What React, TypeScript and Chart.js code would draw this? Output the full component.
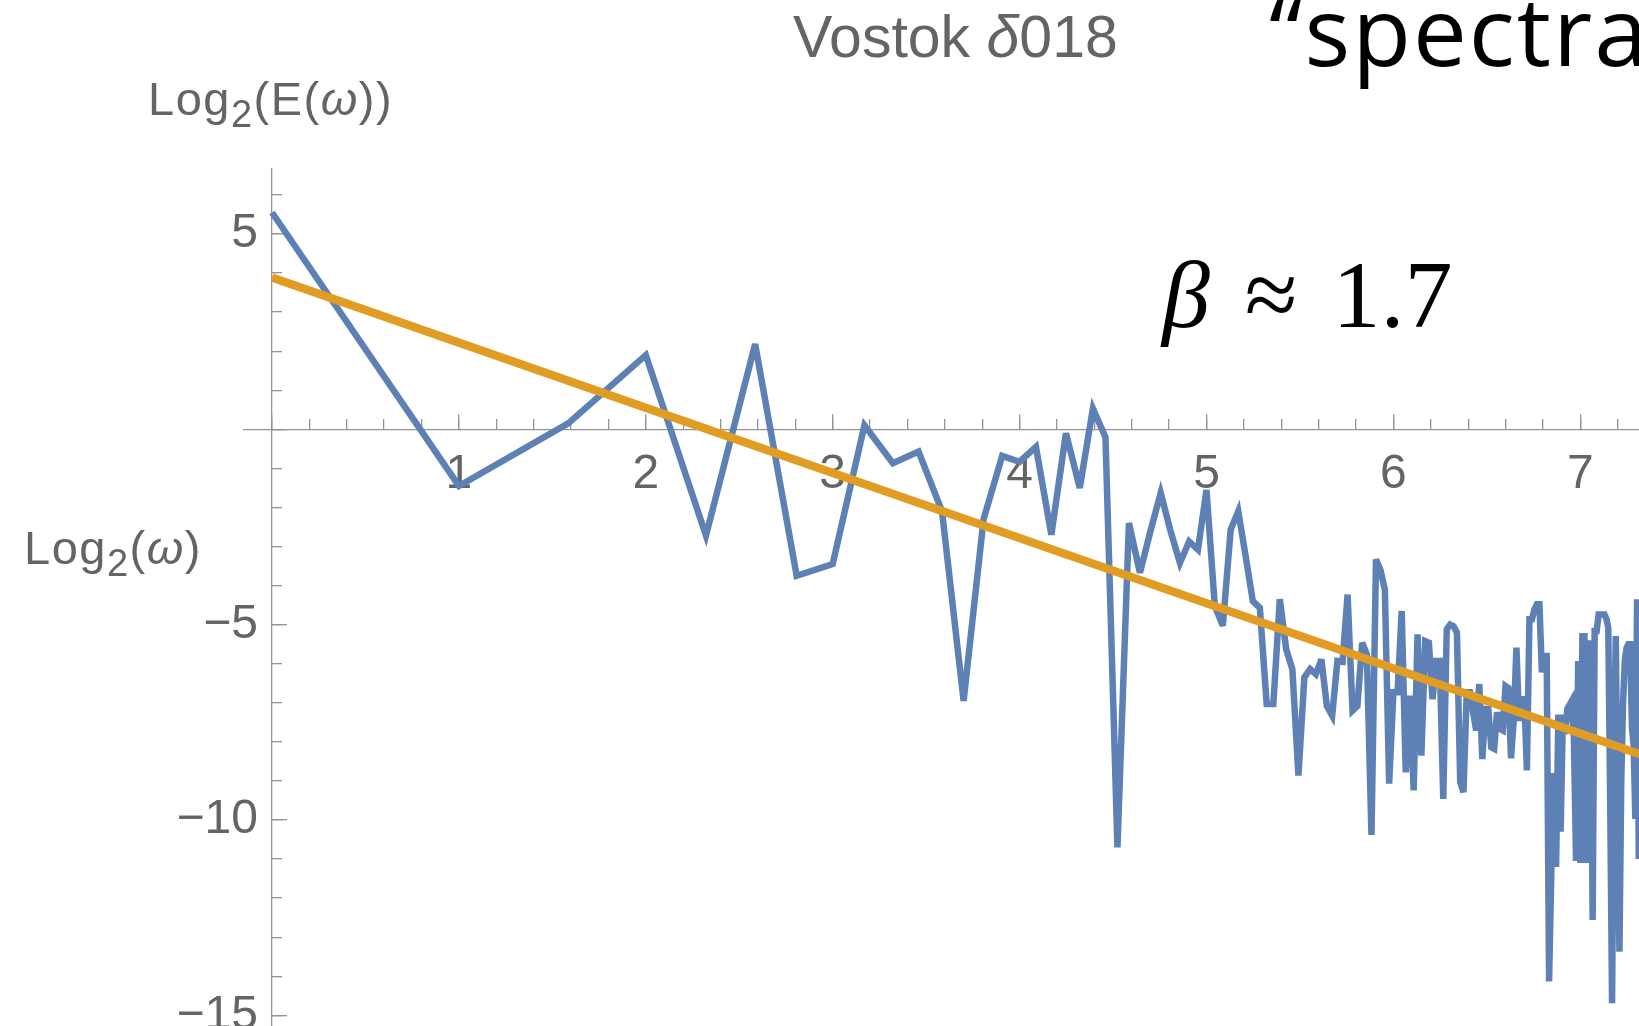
import React, { useEffect, useRef } from "react";
import { Chart, registerables } from "chart.js";

Chart.register(...registerables);

// Log2(E(ω)), for ω = 1, 2, 3, ... (x = Log2(ω))
const log2Power: number[] = [
  5.55, -1.45, 0.15, 1.9, -2.72, 2.18, -3.75, -3.45, 0.1, -0.87,
  -0.57, -2.1, -6.95, -2.3, -0.68, -0.83, -0.45, -2.7, -0.1, -1.5,
  0.53, -0.2, -10.7, -2.4, -3.67, -2.6, -1.63, -2.6, -3.42, -2.87,
  -3.08, -1.55, -4.52, -5.03, -2.57, -2.1, -3.25, -4.4, -4.57, -7.03,
  -7.03, -4.35, -5.63, -6.14, -8.86, -6.35, -6.14, -6.27, -5.89, -7.08,
  -7.33, -5.93, -5.95, -4.23, -7.2, -7.08, -5.46, -5.76, -10.38, -3.33,
  -3.6, -4.1, -9.07, -6.73, -6.73, -4.65, -8.78, -6.82, -9.24, -5.25,
  -8.35, -5.42, -5.46, -6.91, -5.93, -5.93, -9.46, -5.12, -5.0, -5.04,
  -5.2, -9.03, -9.29, -6.73, -6.73, -7.24, -7.71, -6.52, -8.44, -7.16,
  -7.16, -8.14, -8.18, -7.24, -7.67, -7.71, -6.57, -6.62, -8.42, -7.44,
  -5.59, -7.46, -6.91, -6.91, -8.73, -4.86, -4.86, -4.61, -4.48, -4.48,
  -6.22, -5.8, -5.8, -14.13, -11.2, -8.8, -11.2, -7.3, -10.3, -7.3,
  -7.8, -7.15, -7.05, -6.95, -7.9, -11.05, -5.93, -11.1, -5.3, -5.3,
  -11.1, -6.0, -5.4, -12.56, -5.16, -5.16, -4.74, -4.74, -4.74, -4.74,
  -4.85, -5.08, -9.5, -14.69, -8.5, -5.29, -9.8, -13.37, -9.0, -7.0,
  -5.9, -5.59, -5.5, -5.5, -7.6, -8.1, -9.97, -4.35, -11.0, -9.0,
];
// frequency index ω of each value
const omega: number[] = log2Power.map((_, i) => i + 1);

// fitted power law line (β ≈ 1.7)
const fitX: number[] = [0, 7.5];
const fitY: number[] = [3.885, -8.62];

const xTickValues: number[] = [1, 2, 3, 4, 5, 6, 7];
const xTickLabels: string[] = ["1", "2", "3", "4", "5", "6", "7"];
const yTickValues: number[] = [5, -5, -10, -15];
const yTickLabels: string[] = ["5", "\u22125", "\u221210", "\u221215"];
const xMajorMarks: number[] = [0, 1, 2, 3, 4, 5, 6, 7];
const yMajorMarks: number[] = [5, 0, -5, -10, -15];

// layout constants (pixels)
const CANVAS_W = 1700;
const CANVAS_H = 1100;
const ORIGIN_PX_X = 272;
const ORIGIN_PX_Y = 429.3;
const PX_PER_X = 186.9;
const PX_PER_Y = 39.07;
const X_MIN = -0.15;
const X_MAX = 7.5;
const Y_MIN = -16;
const Y_MAX = 6.68;

const BLUE = "#5E81B5";
const ORANGE = "#E19C24";
const AXIS = "#939393";
const LABEL = "#646464";
const TICK_FONT = { family: "'Liberation Sans', Arial, sans-serif", size: 48 };

const miterPlugin = {
  id: "miterLimit",
  beforeDatasetsDraw(chart: any) {
    chart.ctx.miterLimit = 4;
  },
};

export default function App() {
  const ref = useRef<HTMLCanvasElement | null>(null);

  useEffect(() => {
    if (!ref.current) return;
    const padLeft = ORIGIN_PX_X + X_MIN * PX_PER_X;
    const padRight = CANVAS_W - (ORIGIN_PX_X + X_MAX * PX_PER_X);
    const padTop = ORIGIN_PX_Y - Y_MAX * PX_PER_Y;
    const padBottom = CANVAS_H - (ORIGIN_PX_Y - Y_MIN * PX_PER_Y);
    const yLabelPos = (258 - ORIGIN_PX_X) / PX_PER_X;
    const xLabelPos = -(445.5 - ORIGIN_PX_Y) / PX_PER_Y;

    const seriesPoints = omega.map((w, i) => ({ x: Math.log2(w), y: log2Power[i] }));
    const fitPoints = fitX.map((x, i) => ({ x, y: fitY[i] }));

    const markAxis = (len: number, showBorder: boolean) => ({
      border: { display: showBorder, color: AXIS, width: 1.3 },
      grid: {
        display: true,
        drawOnChartArea: false,
        drawTicks: true,
        tickLength: len,
        color: AXIS,
        tickColor: AXIS,
        lineWidth: 1.3,
        tickWidth: 1.3,
      },
      ticks: { display: false },
    });

    const labelAxis = {
      border: { display: false },
      grid: { display: false, drawTicks: false },
    };

    const chart = new Chart(ref.current, {
      type: "line",
      data: {
        datasets: [
          {
            label: "fit",
            data: fitPoints,
            borderColor: ORANGE,
            borderWidth: 8.5,
            pointRadius: 0,
            tension: 0,
            order: 0,
          },
          {
            label: "Vostok",
            data: seriesPoints,
            borderColor: BLUE,
            borderWidth: 6.5,
            pointRadius: 0,
            tension: 0,
            borderJoinStyle: "miter",
            order: 1,
          },
        ],
      },
      options: {
        animation: false,
        responsive: false,
        devicePixelRatio: 1,
        layout: { padding: { left: padLeft, right: padRight, top: padTop, bottom: padBottom } },
        plugins: { legend: { display: false }, tooltip: { enabled: false }, title: { display: false } },
        scales: {
          x: {
            type: "linear",
            axis: "x",
            position: { y: 0 },
            min: X_MIN,
            max: X_MAX,
            ...markAxis(-16, true),
            afterBuildTicks: (s: any) => {
              s.ticks = xMajorMarks.map((v) => ({ value: v }));
            },
          },
          xMinor: {
            type: "linear",
            axis: "x",
            position: { y: 0 },
            min: X_MIN,
            max: X_MAX,
            ...markAxis(-10, false),
            ticks: { display: false, stepSize: 0.2, includeBounds: false },
          },
          xLabels: {
            type: "linear",
            axis: "x",
            position: { y: xLabelPos },
            min: X_MIN,
            max: X_MAX,
            ...labelAxis,
            ticks: {
              display: true,
              padding: 0,
              autoSkip: false,
              maxRotation: 0,
              minRotation: 0,
              color: LABEL,
              font: TICK_FONT,
              callback: (_v: any, i: number) => xTickLabels[i],
            },
            afterBuildTicks: (s: any) => {
              s.ticks = xTickValues.map((v) => ({ value: v }));
            },
          },
          y: {
            type: "linear",
            axis: "y",
            position: { x: 0 },
            min: Y_MIN,
            max: Y_MAX,
            ...markAxis(-16, true),
            afterBuildTicks: (s: any) => {
              s.ticks = yMajorMarks.map((v) => ({ value: v }));
            },
          },
          yMinor: {
            type: "linear",
            axis: "y",
            position: { x: 0 },
            min: Y_MIN,
            max: Y_MAX,
            ...markAxis(-10, false),
            ticks: { display: false, stepSize: 1, includeBounds: false },
          },
          yLabels: {
            type: "linear",
            axis: "y",
            position: { x: yLabelPos },
            min: Y_MIN,
            max: Y_MAX,
            ...labelAxis,
            ticks: {
              display: true,
              padding: 0,
              autoSkip: false,
              color: LABEL,
              font: TICK_FONT,
              callback: (_v: any, i: number) => yTickLabels[i],
            },
            afterBuildTicks: (s: any) => {
              s.ticks = yTickValues.map((v) => ({ value: v }));
            },
          },
        },
      } as any,
      plugins: [miterPlugin],
    });
    return () => chart.destroy();
  }, []);

  const sans = "'Liberation Sans', Arial, sans-serif";
  const abs = (left: number, baseline: number, size: number, ascent: number, descent: number): React.CSSProperties => ({
    position: "absolute",
    left,
    top: baseline - ((ascent - descent) / 2) * size,
    fontSize: size,
    lineHeight: 0,
    whiteSpace: "nowrap",
  });

  return (
    <div
      style={{
        position: "fixed",
        left: 0,
        top: 0,
        width: 1639,
        height: 1026,
        overflow: "hidden",
        background: "#ffffff",
      }}
    >
      <canvas
        ref={ref}
        width={CANVAS_W}
        height={CANVAS_H}
        style={{ position: "absolute", left: 0, top: 0, width: CANVAS_W, height: CANVAS_H }}
      />
      <div style={{ ...abs(793, 57, 59, 0.905, 0.212), fontFamily: sans, color: LABEL }}>
        Vostok <i>δ</i>018
      </div>
      <div style={{ ...abs(148, 115, 47, 0.905, 0.212), fontFamily: sans, color: LABEL, letterSpacing: 1.5 }}>
        Log<span style={{ fontSize: 38, position: "relative", top: 12 }}>2</span>(E(<i>ω</i>))
      </div>
      <div style={{ ...abs(24, 564, 47, 0.905, 0.212), fontFamily: sans, color: LABEL, letterSpacing: 1.5 }}>
        Log<span style={{ fontSize: 38, position: "relative", top: 12 }}>2</span>(<i>ω</i>)
      </div>
      <div
        style={{
          ...abs(1162, 327, 96, 0.891, 0.216),
          fontFamily: "'Liberation Serif', 'Times New Roman', serif",
          color: "#000",
          wordSpacing: 11,
        }}
      >
        <i>β</i> ≈ 1.7
      </div>
      <div style={{ ...abs(1269, 66, 96, 1.069, 0.293), fontFamily: "'Open Sans', sans-serif", color: "#000", letterSpacing: 2 }}>
        “spectral
      </div>
    </div>
  );
}
